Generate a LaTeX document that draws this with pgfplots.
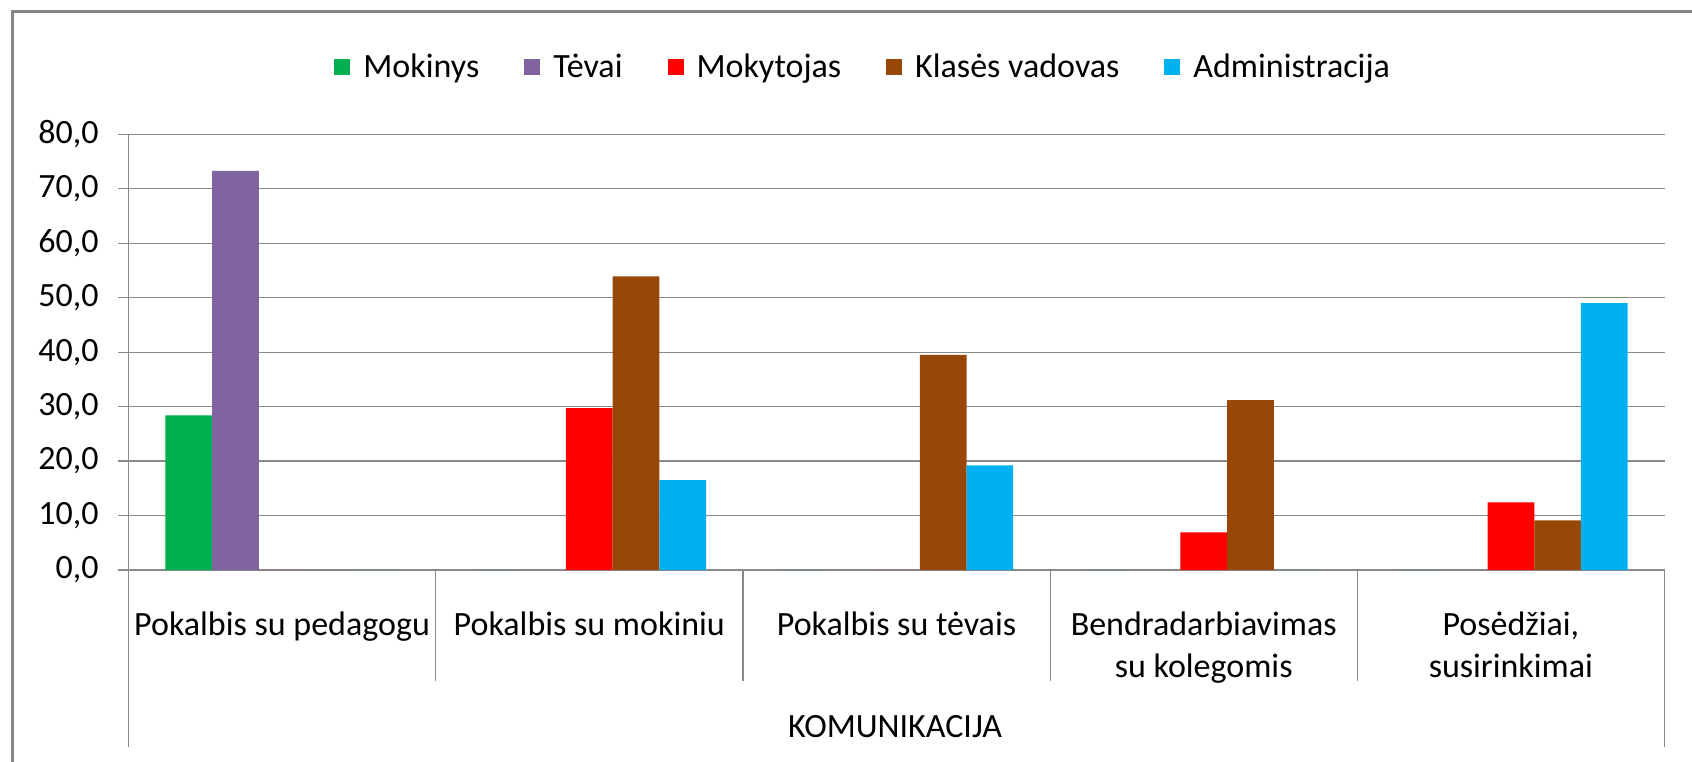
\documentclass[border=0pt]{standalone}
\usepackage{fontspec}
\setmainfont{Carlito}
\usepackage{pgfplots}
\pgfplotsset{compat=1.18}
\definecolor{cgreen}{HTML}{00B050}
\definecolor{cpurple}{HTML}{8064A2}
\definecolor{cred}{HTML}{FF0000}
\definecolor{cbrown}{HTML}{974706}
\definecolor{ccyan}{HTML}{00B0F0}
\definecolor{gridc}{HTML}{8A8A8A}
\definecolor{framec}{HTML}{868686}
\pgfplotsset{legsq/.style={legend image code/.code={\fill[##1] (0pt,-4pt) rectangle (8pt,4pt);}}}
\begin{document}
\begin{tikzpicture}
\useasboundingbox (0,0) rectangle (846pt,380.5pt);
\draw[framec, line width=1.4pt] (6.2pt,-5pt) -- (6.2pt,374.6pt) -- (850pt,374.6pt);
\begin{axis}[
  at={(64.25pt,95.5pt)}, anchor=south west,
  scale only axis, width=768pt, height=217.85pt,
  xmin=-0.5, xmax=4.5, ymin=0, ymax=80,
  ybar=0pt, bar width=0.152,
  axis x line=bottom, axis y line=left,
  axis line style={gridc, line width=0.6pt, -},
  ytick={0,10,...,80}, ymajorgrids,
  grid style={gridc, line width=0.6pt},
  y tick style={gridc, line width=0.6pt},
  tick align=outside, major tick length=5pt,
  xtick={0,...,4}, x tick style={draw=none},
  xticklabels={{Pokalbis su pedagogu},{Pokalbis su mokiniu},{Pokalbis su tėvais},{Bendradarbiavimas\\su kolegomis},{Posėdžiai,\\susirinkimai}},
  xticklabel style={font=\fontsize{17}{21}\selectfont, align=center, anchor=north, inner sep=0pt, yshift=-15.5pt},
  yticklabel style={font=\fontsize{17}{20}\selectfont, anchor=east, inner sep=0pt, xshift=-9.75pt},
  /pgf/number format/.cd, fixed, fixed zerofill, precision=1, use comma, assume math mode=true,
  /pgfplots/.cd,
  legend columns=5,
  legend style={at={(0.1338,1.1545)}, anchor=west, draw=none, fill=none, inner sep=0pt,
    font=\fontsize{17}{20}\selectfont, nodes={inner sep=0pt},
    /tikz/every odd column/.append style={column sep=6.5pt},
    /tikz/every even column/.append style={column sep=22.5pt}},
  clip=false,
]
\addplot[fill=cgreen, draw=none, bar shift=-0.304, legsq] coordinates {(0,28.4) (1,0) (2,0) (3,0) (4,0)};
\addplot[fill=cpurple, draw=none, bar shift=-0.152, legsq] coordinates {(0,73.3) (1,0) (2,0) (3,0) (4,0)};
\addplot[fill=cred, draw=none, bar shift=0, legsq] coordinates {(0,0) (1,29.7) (2,0) (3,6.9) (4,12.4)};
\addplot[fill=cbrown, draw=none, bar shift=0.152, legsq] coordinates {(0,0) (1,53.9) (2,39.5) (3,31.2) (4,9.1)};
\addplot[fill=ccyan, draw=none, bar shift=0.304, legsq] coordinates {(0,0) (1,16.5) (2,19.2) (3,0) (4,49.0)};
\legend{Mokinys, Tėvai, Mokytojas, Klasės vadovas, Administracija}
\draw[gridc, line width=0.6pt] (axis cs:0.5,0) -- ++(0pt,-55.5pt);
\draw[gridc, line width=0.6pt] (axis cs:1.5,0) -- ++(0pt,-55.5pt);
\draw[gridc, line width=0.6pt] (axis cs:2.5,0) -- ++(0pt,-55.5pt);
\draw[gridc, line width=0.6pt] (axis cs:3.5,0) -- ++(0pt,-55.5pt);
\draw[gridc, line width=0.6pt] (axis cs:-0.5,0) -- ++(0pt,-88.5pt);
\draw[gridc, line width=0.6pt] (axis cs:4.5,0) -- ++(0pt,-88.5pt);
\end{axis}
\node[anchor=base, inner sep=0pt, font=\fontsize{17}{20}\selectfont] at (447.5pt,12pt) {KOMUNIKACIJA};
\end{tikzpicture}
\end{document}
